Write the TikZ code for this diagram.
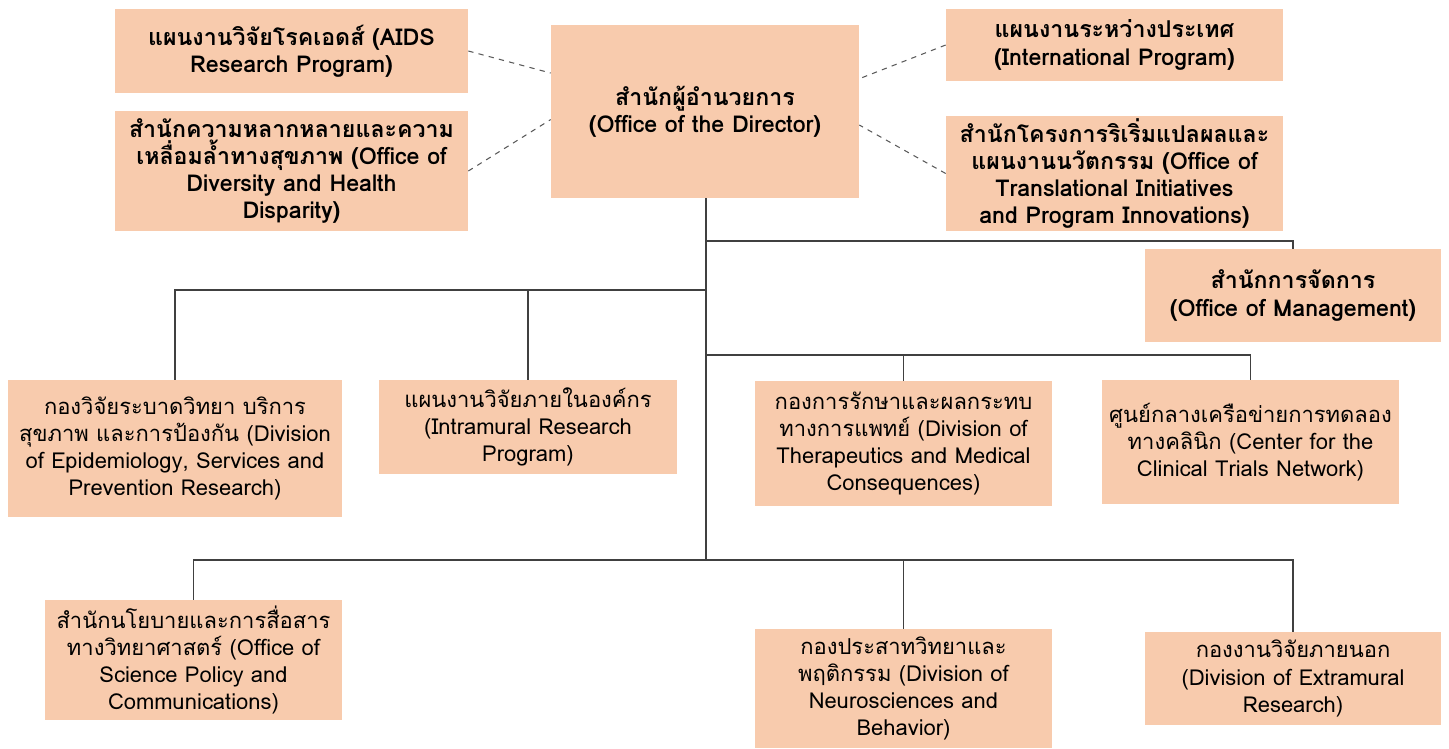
\documentclass[tikz,border=0pt]{standalone}
\usepackage{fontspec}
\newfontfamily\thaifont[Script=Thai]{Loma}
\definecolor{peach}{RGB}{248,203,173}
\begin{document}
\begin{tikzpicture}[x=0.02cm,y=-0.02cm,
        box/.style={fill=peach,align=center,inner sep=0pt,font=\thaifont\fontsize{12.5}{15.5}\selectfont},
        topbox/.style={box,font=\thaifont\bfseries\fontsize{13.2}{15.5}\selectfont},
        tree/.style={draw=black!75,line width=0.7pt},
        link/.style={draw=black!65,dashed,line width=0.6pt}]
        \useasboundingbox (0,0) rectangle (1449,748);
        % top level
        \node[topbox,minimum width=6.16cm,minimum height=3.46cm] (dir) at (705,111.5) {สำนักผู้อำนวยการ\\(Office of the Director)};
        \node[topbox,minimum width=7.06cm,minimum height=1.68cm] (aids) at (291.5,51) {แผนงานวิจัยโรคเอดส์ (AIDS\\Research Program)};
        \node[topbox,minimum width=7.06cm,minimum height=2.4cm] (diver) at (291.5,171) {สำนักความหลากหลายและความ\\เหลื่อมล้ำทางสุขภาพ (Office of\\Diversity and Health\\Disparity)};
        \node[topbox,minimum width=6.74cm,minimum height=1.44cm] (intl) at (1114.5,45) {แผนงานระหว่างประเทศ\\(International Program)};
        \node[topbox,minimum width=6.74cm,minimum height=2.3cm] (trans) at (1114.5,173.5) {สำนักโครงการริเริ่มแปลผลและ\\แผนงานนวัตกรรม (Office of\\Translational Initiatives\\and Program Innovations)};
        \node[topbox,minimum width=5.92cm,minimum height=1.86cm] (mgmt) at (1293,295.5) {สำนักการจัดการ\\(Office of Management)};
        % divisions
        \node[box,minimum width=6.68cm,minimum height=2.74cm] (epid) at (175,448.5) {กองวิจัยระบาดวิทยา บริการ\\สุขภาพ และการป้องกัน (Division\\of Epidemiology, Services and\\Prevention Research)};
        \node[box,minimum width=5.96cm,minimum height=1.88cm] (intra) at (528,427) {แผนงานวิจัยภายในองค์กร\\(Intramural Research\\Program)};
        \node[box,minimum width=5.94cm,minimum height=2.5cm] (thera) at (903.5,443.5) {กองการรักษาและผลกระทบ\\ทางการแพทย์ (Division of\\Therapeutics and Medical\\Consequences)};
        \node[box,minimum width=5.94cm,minimum height=2.48cm] (clin) at (1250.5,442) {ศูนย์กลางเครือข่ายการทดลอง\\ทางคลินิก (Center for the\\Clinical Trials Network)};
        \node[box,minimum width=5.94cm,minimum height=2.4cm] (sci) at (193.5,660) {สำนักนโยบายและการสื่อสาร\\ทางวิทยาศาสตร์ (Office of\\Science Policy and\\Communications)};
        \node[box,minimum width=5.94cm,minimum height=2.38cm] (neuro) at (903.5,688.5) {กองประสาทวิทยาและ\\พฤติกรรม (Division of\\Neurosciences and\\Behavior)};
        \node[box,minimum width=5.92cm,minimum height=1.86cm] (extra) at (1293,678.5) {กองงานวิจัยภายนอก\\(Division of Extramural\\Research)};
        % trunk and branches
        \coordinate (t1) at (706,241);
        \coordinate (t2) at (706,290);
        \coordinate (t3) at (706,355);
        \coordinate (t4) at (706,560);
        \draw[tree] (dir.south -| t1) -- (t4);
        \draw[tree] (t1) -| (mgmt.north);
        \draw[tree] (epid.north) |- (t2) -| (intra.north);
        \draw[tree] (t3) -| (thera.north);
        \draw[tree] (t3) -| (clin.north);
        \draw[tree] (sci.north) |- (t4) -| (neuro.north);
        \draw[tree] (t4) -| (extra.north);
        % staff offices
        \draw[link] (aids.east) -- (dir.166);
        \draw[link] (diver.east) -- (dir.183);
        \draw[link] (intl.west) -- (dir.12);
        \draw[link] (trans.west) -- (dir.355);
    \end{tikzpicture}
\end{document}
